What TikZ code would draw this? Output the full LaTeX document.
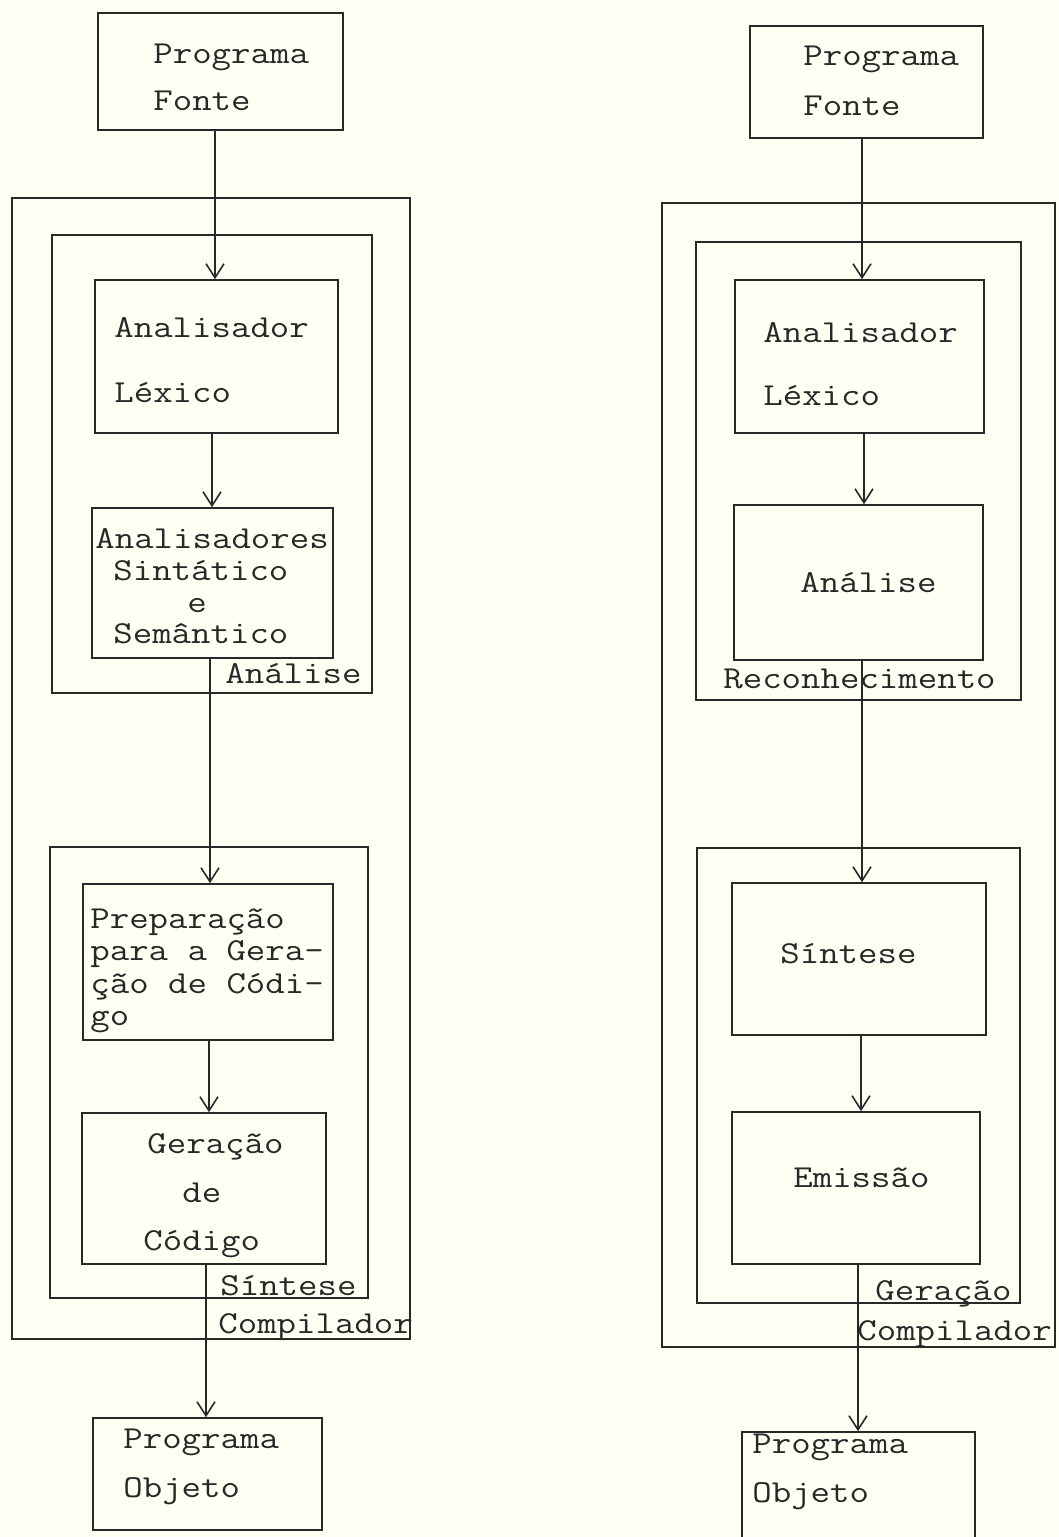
\documentclass[tikz,border=0pt]{standalone}
\usepackage{fontspec}
\newfontfamily\typew{Latin Modern Mono}[FakeStretch=1.18]
\usetikzlibrary{arrows.meta,fit}
\definecolor{paper}{RGB}{255,255,244}
\definecolor{ink}{RGB}{40,40,40}
\begin{document}
\begin{tikzpicture}[x=0.5pt,y=-0.5pt,
  box/.style={draw=ink, line width=0.8pt, inner sep=0pt},
  txt/.style={text=ink, font=\typew\fontsize{16}{20}\selectfont, inner sep=0pt, anchor=base west},
  arr/.style={draw=ink, line width=0.8pt, -{Straight Barb[length=7pt,width=9pt,line width=0.8pt]}}]
\useasboundingbox (0,0) rectangle (1059,1537);
\fill[paper] (0,0) rectangle (1059,1537);
\clip (0,0) rectangle (1059,1537);

% ---------------- left diagram ----------------
\node[box, fit={(98,13) (343,130)}] (fonteL) {};
\node[box, fit={(12,198) (410,1339)}] (compL) {};
\node[box, fit={(52,235) (372,693)}] (analL) {};
\node[box, fit={(95,280) (338,433)}] (lexL) {};
\node[box, fit={(92,508) (333,658)}] (sintL) {};
\node[box, fit={(50,847) (368,1298)}] (sinteseL) {};
\node[box, fit={(83,884) (333,1040)}] (prepL) {};
\node[box, fit={(82,1113) (326,1264)}] (geraL) {};
\node[box, fit={(93,1418) (322,1530)}] (objL) {};

\node[txt] (tL1) at (153,63) {Programa};
\node[txt] (tL2) at (153,110) {Fonte};
\node[txt] (tL3) at (114,337) {Analisador};
\node[txt] (tL4) at (114,402) {Léxico};
\node[txt] (tL5) at (95,548) {Analisadores};
\node[txt] (tL6) at (113,580) {Sintático};
\node[txt] (tL7) at (187,612) {e};
\node[txt] (tL8) at (113,643) {Semântico};
\node[txt] (tL9) at (225,683) {Análise};
\node[txt] (tL10) at (90,928) {Preparação};
\node[txt] (tL11) at (90,960) {para a Gera-};
\node[txt] (tL12) at (90,993) {ção de Códi-};
\node[txt] (tL13) at (90,1025) {go};
\node[txt] (tL14) at (147,1153) {Geração};
\node[txt] (tL15) at (182,1202) {de};
\node[txt] (tL16) at (143,1250) {Código};
\node[txt] (tL17) at (220,1295) {Síntese};
\node[txt] (tL18) at (218,1333) {Compilador};
\node[txt] (tL19) at (123,1448) {Programa};
\node[txt] (tL20) at (123,1497) {Objeto};

\coordinate (xa) at (215,0);
\coordinate (xb) at (212,0);
\coordinate (xc) at (210,0);
\coordinate (xd) at (209,0);
\coordinate (xe) at (206,0);
\draw[arr] (fonteL.south -| xa) -- (lexL.north -| xa);
\draw[arr] (lexL.south -| xb) -- (sintL.north -| xb);
\draw[arr] (sintL.south -| xc) -- (prepL.north -| xc);
\draw[arr] (prepL.south -| xd) -- (geraL.north -| xd);
\draw[arr] (geraL.south -| xe) -- (objL.north -| xe);

% ---------------- right diagram ----------------
\node[box, fit={(750,26) (983,138)}] (fonteR) {};
\node[box, fit={(662,203) (1055,1347)}] (compR) {};
\node[box, fit={(696,242) (1021,700)}] (recR) {};
\node[box, fit={(735,280) (984,433)}] (lexR) {};
\node[box, fit={(734,505) (983,660)}] (analR) {};
\node[box, fit={(697,848) (1020,1303)}] (geraR) {};
\node[box, fit={(732,883) (986,1035)}] (sintR) {};
\node[box, fit={(732,1112) (980,1264)}] (emisR) {};
\node[box, fit={(742,1432) (975,1570)}] (objR) {};

\node[txt] (tR1) at (803,65) {Programa};
\node[txt] (tR2) at (803,115) {Fonte};
\node[txt] (tR3) at (763,342) {Analisador};
\node[txt] (tR4) at (763,405) {Léxico};
\node[txt] (tR5) at (800,592) {Análise};
\node[txt] (tR6) at (723,688) {Reconhecimento};
\node[txt] (tR7) at (780,963) {Síntese};
\node[txt] (tR8) at (793,1187) {Emissão};
\node[txt] (tR9) at (875,1300) {Geração};
\node[txt] (tR10) at (857,1340) {Compilador};
\node[txt] (tR11) at (752,1453) {Programa};
\node[txt] (tR12) at (752,1502) {Objeto};

\coordinate (ya) at (862,0);
\coordinate (yb) at (864,0);
\coordinate (yc) at (862,0);
\coordinate (yd) at (861,0);
\coordinate (ye) at (858,0);
\draw[arr] (fonteR.south -| ya) -- (lexR.north -| ya);
\draw[arr] (lexR.south -| yb) -- (analR.north -| yb);
\draw[arr] (analR.south -| yc) -- (sintR.north -| yc);
\draw[arr] (sintR.south -| yd) -- (emisR.north -| yd);
\draw[arr] (emisR.south -| ye) -- (objR.north -| ye);
\end{tikzpicture}
\end{document}
